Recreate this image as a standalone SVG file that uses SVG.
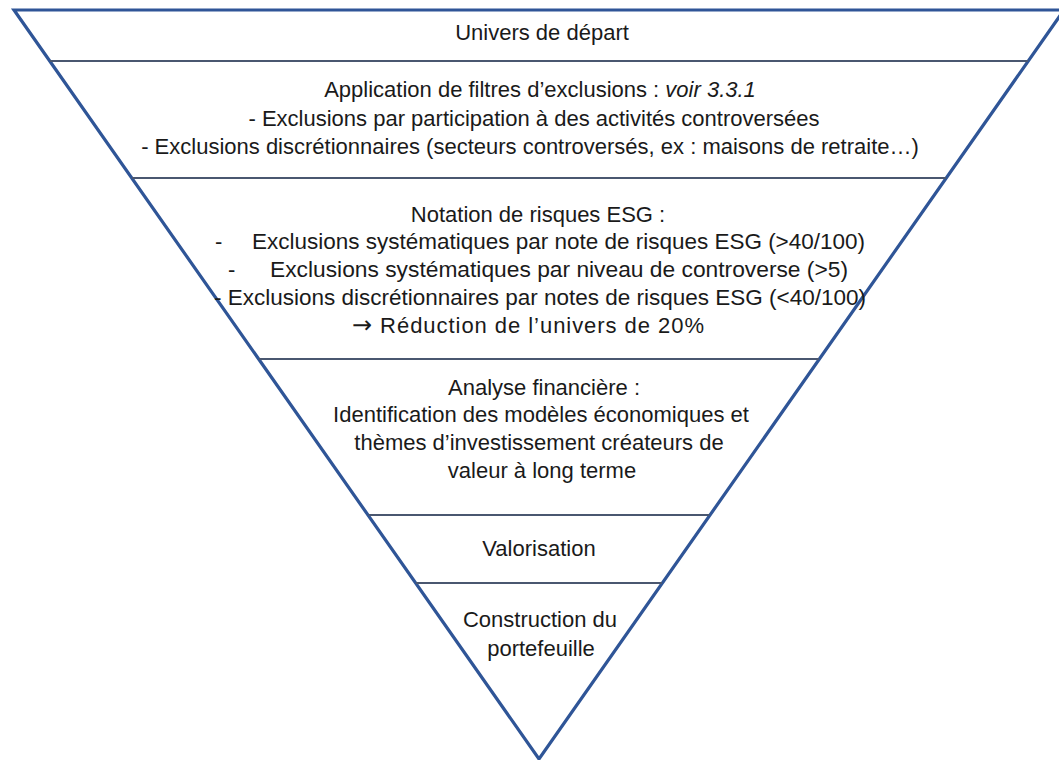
<svg xmlns="http://www.w3.org/2000/svg" width="1059" height="760" viewBox="0 0 1059 760">
<style>
.t{font-family:"Liberation Sans",Arial,sans-serif;font-size:22px;fill:#1a1a1a;text-anchor:middle}
.s{font-family:"Liberation Sans",Arial,sans-serif;font-size:22px;fill:#1a1a1a;text-anchor:start}
.sep{stroke:#4a5770;stroke-width:2;fill:none}
.tri{stroke:#2f5597;stroke-width:3.2;fill:#ffffff;stroke-linejoin:miter}
.arr{font-family:"DejaVu Sans",sans-serif;font-size:24px}
</style>
<rect width="1059" height="760" fill="#ffffff"/>
<polygon id="funnel" class="tri" points="14,10 1064,10 539,759"/>
<g id="separators">
<line class="sep" x1="50" y1="61" x2="1028" y2="61"/>
<line class="sep" x1="132" y1="178" x2="946" y2="178"/>
<line class="sep" x1="259" y1="359" x2="819" y2="359"/>
<line class="sep" x1="368.5" y1="515" x2="709.5" y2="515"/>
<line class="sep" x1="416" y1="583" x2="662" y2="583"/>
</g>
<g id="univers">
<text class="t" x="542" y="40">Univers de départ</text>
</g>
<g id="exclusions">
<text class="t" x="540" y="97">Application de filtres d’exclusions : <tspan font-style="italic">voir 3.3.1</tspan></text>
<text class="t" x="534" y="126">- Exclusions par participation à des activités controversées</text>
<text class="t" x="530" y="154">- Exclusions discrétionnaires (secteurs controversés, ex : maisons de retraite…)</text>
</g>
<g id="notation">
<text class="t" x="538" y="222">Notation de risques ESG :</text>
<text class="s" x="215" y="249">-</text>
<text class="s" x="252" y="249" textLength="613" lengthAdjust="spacingAndGlyphs">Exclusions systématiques par note de risques ESG (&gt;40/100)</text>
<text class="s" x="228" y="277">-</text>
<text class="s" x="270" y="277" textLength="578" lengthAdjust="spacingAndGlyphs">Exclusions systématiques par niveau de controverse (&gt;5)</text>
<text class="s" x="214" y="305" textLength="652" lengthAdjust="spacingAndGlyphs">- Exclusions discrétionnaires par notes de risques ESG (&lt;40/100)</text>
<text class="s" x="352" y="333" textLength="352" lengthAdjust="spacing"><tspan class="arr">→</tspan> Réduction de l’univers de 20%</text>
</g>
<g id="analyse">
<text class="t" x="544" y="395">Analyse financière :</text>
<text class="t" x="541" y="422">Identification des modèles économiques et</text>
<text class="t" x="539" y="450">thèmes d’investissement créateurs de</text>
<text class="t" x="542" y="478">valeur à long terme</text>
</g>
<g id="valorisation">
<text class="t" x="539" y="556">Valorisation</text>
</g>
<g id="construction">
<text class="t" x="540" y="627">Construction du</text>
<text class="t" x="541" y="656">portefeuille</text>
</g>
</svg>
